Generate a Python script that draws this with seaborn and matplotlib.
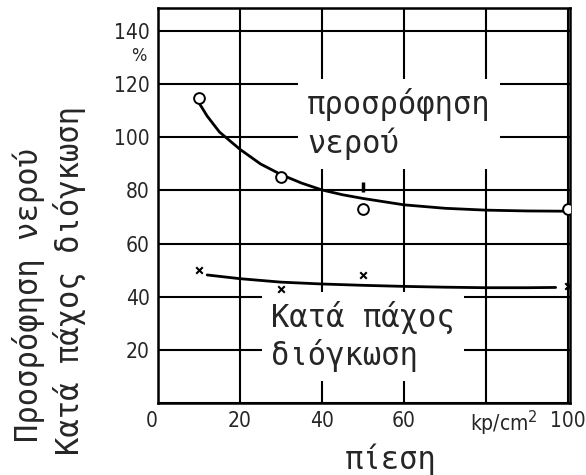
import matplotlib
matplotlib.use('Agg')
import matplotlib.pyplot as plt
from matplotlib import font_manager
from matplotlib.font_manager import FontProperties
import seaborn as sns

# --- data ---
pressure_ticks = [0, 20, 40, 60, 80, 100]
pressure_labels = ['0', '20', '40', '60', '', '100']
pct_ticks = [0, 20, 40, 60, 80, 100, 120, 140]
pct_labels = ['', '20', '40', '60', '80', '100', '120', '140']

# water absorption: measured points (circles) and drawn curve
water_x = [10, 30, 50, 100]
water_y = [115, 85, 73, 73]
water_curve_x = [10, 12, 15, 20, 25, 30, 35, 40, 45, 50, 60, 70, 80, 90, 100]
water_curve_y = [113, 108, 102, 95.5, 90, 86, 82.8, 80.2, 78.4, 77, 74.6, 73.3, 72.6, 72.3, 72.2]

# swelling across thickness: measured points (crosses) and drawn curve
swell_x = [10, 30, 50, 100]
swell_y = [50, 43, 48, 44]
swell_curve_x = [12, 20, 30, 40, 50, 60, 70, 80, 90, 97]
swell_curve_y = [48.2, 46.8, 45.5, 44.8, 44.3, 43.9, 43.6, 43.4, 43.4, 43.5]

# odd extra mark above the 50 point
extra_x = [50]
extra_y = [81.5]

sns.set_style('white')
plt.rcParams['font.family'] = ['DejaVu Sans']

# narrow font for the numbers, if one is around
narrow = [f.fname for f in font_manager.fontManager.ttflist
          if ('Narrow' in f.fname or 'Condensed' in f.fname)
          and 'Bold' not in f.fname and 'Oblique' not in f.fname and 'Italic' not in f.fname]
if narrow:
    num_fp = FontProperties(fname=sorted(narrow)[0], size=15)
    pct_fp = FontProperties(fname=sorted(narrow)[0], size=13)
else:
    num_fp = FontProperties(family='DejaVu Sans', size=12.5)
    pct_fp = FontProperties(family='DejaVu Sans', size=11)
greek_font = ['DejaVu Sans Mono', 'DejaVu Sans']

fig = plt.figure(figsize=(5.86, 4.75), dpi=100)
ax = fig.add_axes([158 / 586, 72 / 475, 412 / 586, 395 / 475])

sns.lineplot(x=water_curve_x, y=water_curve_y, ax=ax, color='black', lw=2,
             estimator=None, sort=False, zorder=3)
sns.lineplot(x=swell_curve_x, y=swell_curve_y, ax=ax, color='black', lw=2,
             estimator=None, sort=False, zorder=3)
sns.scatterplot(x=water_x, y=water_y, ax=ax, marker='o', s=60, facecolor='white',
                edgecolor='black', linewidth=1.4, zorder=5)
sns.scatterplot(x=swell_x, y=swell_y, ax=ax, marker='x', s=22, color='black',
                linewidth=1.5, zorder=5)
sns.scatterplot(x=extra_x, y=extra_y, ax=ax, marker='|', s=60, color='black',
                linewidth=2.5, zorder=5)

ax.set_xlim(0, 100.5)
ax.set_ylim(0, 148.7)
ax.set_xticks(pressure_ticks)
ax.set_xticklabels(pressure_labels)
ax.set_yticks(pct_ticks)
ax.set_yticklabels(pct_labels)
for lab in ax.get_xticklabels() + ax.get_yticklabels():
    lab.set_fontproperties(num_fp)
ax.get_xticklabels()[0].set_ha('right')
ax.tick_params(length=0, pad=6)
ax.grid(True, color='black', lw=1.5)
ax.set_axisbelow(True)
for s in ax.spines.values():
    s.set_color('black')
    s.set_linewidth(1.8)

ax.text(84.5, -2.2, 'kp/cm$^2$', ha='center', va='top', fontproperties=num_fp,
        clip_on=False)
ax.text(-4.8, 130.5, '%', ha='center', va='center', fontproperties=pct_fp,
        clip_on=False)

box = dict(facecolor='white', edgecolor='none', boxstyle='square,pad=0.3')
ax.text(36.4, 105, 'προσρόφηση\nνερού', ha='left', va='center', fontsize=22,
        fontfamily=greek_font, linespacing=1.25, bbox=box, zorder=4)
ax.text(27.6, 25, 'Κατά πάχος\nδιόγκωση', ha='left', va='center', fontsize=22,
        fontfamily=greek_font, linespacing=1.2, bbox=box, zorder=4)

fig.text(0.048, 0.38, 'Προσρόφηση νερού', rotation=90, ha='center', va='center',
         fontsize=22, fontfamily=greek_font)
fig.text(0.118, 0.41, 'Κατά πάχος διόγκωση', rotation=90, ha='center', va='center',
         fontsize=22, fontfamily=greek_font)
fig.text(0.666, 0.033, 'πίεση', ha='center', va='center', fontsize=22,
         fontfamily=greek_font)

fig.savefig('out.png', dpi=100, facecolor='white')
